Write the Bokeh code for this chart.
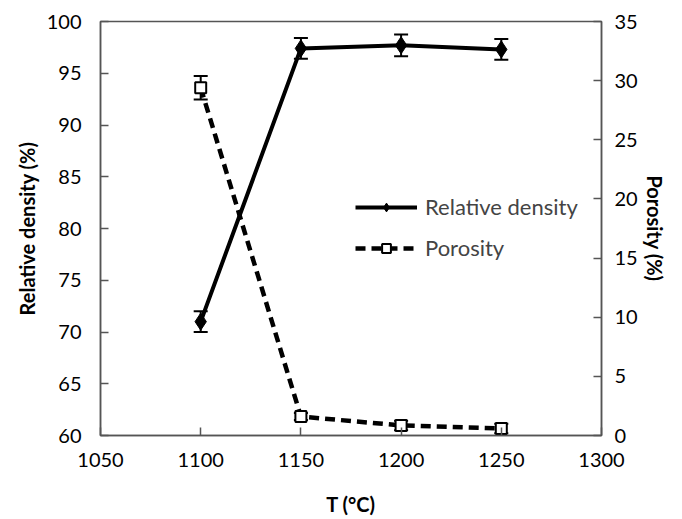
from bokeh.plotting import figure
from bokeh.models import (Range1d, LinearAxis, ColumnDataSource, Whisker, TeeHead,
                          Legend, LegendItem, FixedTicker)
from bokeh.embed import file_html
from bokeh.resources import INLINE

temps = [1100, 1150, 1200, 1250]
rel_density = [71.0, 97.4, 97.7, 97.3]
rel_density_err = [1.0, 1.0, 1.05, 1.0]
porosity = [29.4, 1.6, 0.85, 0.6]
porosity_err = [1.0, 0.3, 0.4, 0.4]

FONT = "Lato"

p = figure(width=682, height=519, output_backend="svg", toolbar_location=None,
           x_range=Range1d(1050, 1300), y_range=Range1d(60, 100),
           min_border_left=100, min_border_right=81, min_border_top=21, min_border_bottom=84)
p.extra_y_ranges = {"por": Range1d(0, 35)}
p.grid.visible = False
p.outline_line_color = "#555555"
p.outline_line_width = 1.5
p.background_fill_color = "white"
p.border_fill_color = "white"

def style_axis(ax):
    ax.major_tick_in = 8
    ax.major_tick_out = 0
    ax.minor_tick_line_color = None
    ax.axis_line_color = "#555555"
    ax.axis_line_width = 1.5
    ax.major_tick_line_color = "#555555"
    ax.major_tick_line_width = 1.5
    ax.major_label_text_font = FONT
    ax.major_label_text_font_size = "20px"
    ax.major_label_text_color = "black"
    ax.axis_label_text_font = FONT
    ax.axis_label_text_font_size = "20px"
    ax.axis_label_text_font_style = "bold"
    ax.axis_label_text_color = "black"

p.xaxis.ticker = FixedTicker(ticks=[1050, 1100, 1150, 1200, 1250, 1300])
p.yaxis.ticker = FixedTicker(ticks=list(range(60, 101, 5)))
p.xaxis.axis_label = "T (°C)"
p.yaxis.axis_label = "Relative density (%)"
style_axis(p.xaxis[0])
style_axis(p.yaxis[0])
p.xaxis.major_label_standoff = 17
p.yaxis.major_label_standoff = 19
p.xaxis.axis_label_standoff = 22
p.yaxis.axis_label_standoff = 5

ax2 = LinearAxis(y_range_name="por", axis_label="Porosity (%)",
                 ticker=FixedTicker(ticks=list(range(0, 36, 5))))
style_axis(ax2)
ax2.major_label_standoff = 13
ax2.axis_label_standoff = 2
p.add_layout(ax2, "right")

src_d = ColumnDataSource(dict(x=temps, y=rel_density,
                              lo=[v - e for v, e in zip(rel_density, rel_density_err)],
                              hi=[v + e for v, e in zip(rel_density, rel_density_err)]))
src_p = ColumnDataSource(dict(x=temps, y=porosity,
                              lo=[v - e for v, e in zip(porosity, porosity_err)],
                              hi=[v + e for v, e in zip(porosity, porosity_err)]))

l1 = p.line("x", "y", source=src_d, line_color="black", line_width=4)
w1 = Whisker(source=src_d, base="x", lower="lo", upper="hi", line_color="black", line_width=2,
             upper_head=TeeHead(size=14, line_width=2, line_color="black"),
             lower_head=TeeHead(size=14, line_width=2, line_color="black"))
p.add_layout(w1)
m1 = p.scatter("x", "y", source=src_d, marker="diamond", size=17, fill_color="black",
               line_color="black")

l2 = p.line("x", "y", source=src_p, y_range_name="por", line_color="black", line_width=4.5,
            line_dash="10 6")
w2 = Whisker(source=src_p, base="x", lower="lo", upper="hi", y_range_name="por",
             line_color="black", line_width=2,
             upper_head=TeeHead(size=14, line_width=2, line_color="black"),
             lower_head=TeeHead(size=14, line_width=2, line_color="black"))
p.add_layout(w2)
m2 = p.scatter("x", "y", source=src_p, y_range_name="por", marker="square", size=11,
               fill_color="white", line_color="black", line_width=2)

legend = Legend(items=[LegendItem(label="Relative density", renderers=[l1, m1]),
                       LegendItem(label="Porosity", renderers=[l2, m2])],
                location=(255, 174), orientation="vertical")
legend.border_line_color = None
legend.background_fill_alpha = 0
legend.label_text_font = FONT
legend.label_text_font_size = "22px"
legend.glyph_width = 62
legend.glyph_height = 22
legend.label_standoff = 8
legend.spacing = 14
legend.padding = 0
legend.margin = 0
p.add_layout(legend, "center")

open("out.html", "w").write(file_html(p, INLINE))
